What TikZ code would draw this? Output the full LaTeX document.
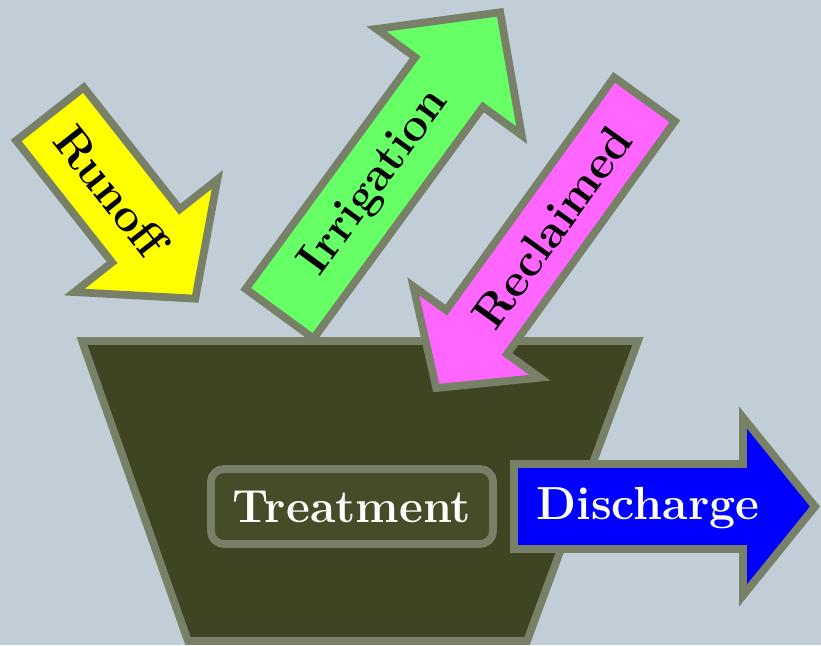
\documentclass[tikz,border=0pt]{standalone}
\usepackage{tikz}
\definecolor{slate}{RGB}{193,206,216}
\definecolor{rim}{RGB}{120,129,104}
\definecolor{tank}{RGB}{63,69,34}
\definecolor{tankbox}{RGB}{70,76,40}
\definecolor{runoffyellow}{RGB}{255,255,0}
\definecolor{irrgreen}{RGB}{102,255,102}
\definecolor{reclaimpink}{RGB}{255,102,255}
\definecolor{dischargeblue}{RGB}{0,0,255}
\tikzset{
  rimline/.style={draw=rim, line width=2.2pt, line join=miter},
  flowtext/.style={font=\fontsize{13.2}{15}\selectfont\bfseries, inner sep=0pt, transform shape}
}
\newcommand{\flowarrow}[5]{%
  \draw[rimline, fill=#5] (0,-#2) -- (#1-#4,-#2) -- (#1-#4,-#3) -- (#1,0)
    -- (#1-#4,#3) -- (#1-#4,#2) -- (0,#2) -- cycle;}

\begin{document}
\begin{tikzpicture}[x=0.01cm, y=0.01cm]
    \useasboundingbox (0,0) rectangle (821,645);
    \fill[slate] (0,0) rectangle (821,645);
    \draw[rimline, fill=tank] (82,304) -- (638,304) -- (527,4) -- (188,4) -- cycle;
    \node[rimline, fill=tankbox, rounded corners=0.13cm,
    minimum width=2.82cm,
    minimum height=0.75cm,
    text=white,
    font=\fontsize{13.2}{15}\selectfont\bfseries] (treatment) at (352,138.5) {Treatment};
    \begin{scope}[shift={(514,138.5)}]
        \flowarrow{301}{42.5}{89}{72}{dischargeblue}
        \node[flowtext, text=white] (discharge) at (134,-2) {Discharge};
    \end{scope}
    \begin{scope}[shift={(279.6,331.3)}, rotate=53.8]
        \flowarrow{373.5}{42}{90}{86.5}{irrgreen}
        \node[flowtext] (irrigation) at (162,0) {Irrigation};
    \end{scope}
    \begin{scope}[shift={(644.5,545.7)}, rotate=-125.8]
        \flowarrow{356}{37.5}{78}{69}{reclaimpink}
        \node[flowtext, rotate=180] (reclaimed) at (158,0) {Reclaimed};
    \end{scope}
    \begin{scope}[shift={(50,531)}, rotate=-51.8]
        \flowarrow{235}{43}{91}{80}{runoffyellow}
        \node[flowtext] (runoff) at (98,0) {Runoff};
    \end{scope}
\end{tikzpicture}
\end{document}
